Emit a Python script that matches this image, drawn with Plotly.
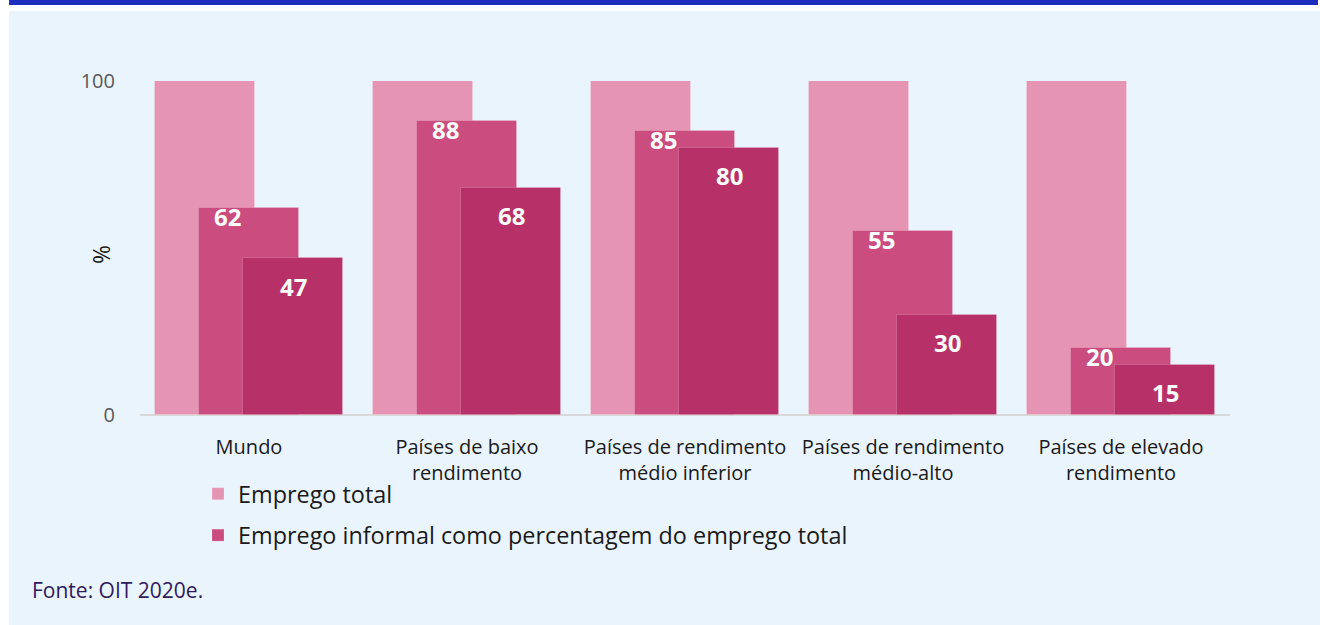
import plotly.graph_objects as go

categories = ["Mundo", "Países de baixo<br>rendimento", "Países de rendimento<br>médio inferior",
              "Países de rendimento<br>médio-alto", "Países de elevado<br>rendimento"]
total_emp = [100, 100, 100, 100, 100]
informal_share = [62, 88, 85, 55, 20]
third_series = [47, 68, 80, 30, 15]
y_ticks = [0, 100]

x_pos = list(range(len(categories)))

C1 = "#e594b3"
C2 = "#cb4c7e"
C3 = "#b83068"
FONT = "Open Sans"
EDGE = "rgba(255,255,255,0.18)"

fig = go.Figure()
W = 0.459
fig.add_trace(go.Bar(x=x_pos, y=total_emp, offset=-0.431, width=W, name="Emprego total",
                     marker=dict(color=C1, line=dict(color=EDGE, width=1)),
                     legendgroup="a"))
fig.add_trace(go.Bar(x=x_pos, y=informal_share, offset=-0.229, width=W,
                     name="Emprego informal como percentagem do emprego total",
                     marker=dict(color=C2, line=dict(color=EDGE, width=1)),
                     legendgroup="b"))
fig.add_trace(go.Bar(x=x_pos, y=third_series, offset=-0.0275, width=W, name="",
                     marker=dict(color=C3, line=dict(color=EDGE, width=1)),
                     showlegend=False, legendgroup="c"))

annotations = []
for xi, v in zip(x_pos, informal_share):
    annotations.append(dict(x=xi, y=v, xref="x", yref="y", text=f"<b>{v}</b>", showarrow=False,
                            xshift=-22, yanchor="top", yshift=10,
                            font=dict(family=FONT, size=24, color="white")))
for xi, v in zip(x_pos, third_series):
    annotations.append(dict(x=xi, y=v, xref="x", yref="y", text=f"<b>{v}</b>", showarrow=False,
                            xshift=44, yanchor="middle", yshift=-28,
                            font=dict(family=FONT, size=24, color="white")))
annotations.append(dict(x=(30 - 140) / 1090, y=(415 - 590) / 334, xref="paper", yref="paper",
                        xanchor="left", yanchor="middle", text="Fonte: OIT 2020e.", showarrow=False,
                        font=dict(family=FONT, size=21, color="#2e1a5e")))
annotations.append(dict(x=(101 - 140) / 1090, y=(415 - 255) / 334, xref="paper", yref="paper",
                        xanchor="center", yanchor="middle", text="%", textangle=-90, showarrow=False,
                        font=dict(family=FONT, size=23, color="#1a1a1a")))

shapes = [
    dict(type="rect", xref="paper", yref="paper", x0=(9 - 140) / 1090, x1=(1320 - 140) / 1090,
         y0=(415 - 11) / 334, y1=(415 - 640) / 334, fillcolor="#eaf4fd", line=dict(width=0), layer="below"),
    dict(type="rect", xref="paper", yref="paper", x0=(9 - 140) / 1090, x1=(1318 - 140) / 1090,
         y0=(415 - 5) / 334, y1=(415 + 5) / 334, fillcolor="#1f2dbf", line=dict(width=0),
         layer="below"),
]

fig.update_layout(
    width=1320, height=625,
    margin=dict(l=140, r=90, t=81, b=210),
    paper_bgcolor="white", plot_bgcolor="rgba(0,0,0,0)",
    barmode="overlay", bargap=0,
    font=dict(family=FONT, color="#1a1a1a"),
    showlegend=True,
    legend=dict(x=(198 - 140) / 1090, y=(415 - 472) / 334, xanchor="left", yanchor="top",
                orientation="v", traceorder="grouped", tracegroupgap=8,
                font=dict(family=FONT, size=23.4, color="#1a1a1a"), bgcolor="rgba(0,0,0,0)"),
    xaxis=dict(range=[-0.5, 4.5], tickvals=x_pos, ticktext=categories, showgrid=False,
               zeroline=False, showline=False, ticks="outside", ticklen=14, tickcolor="rgba(0,0,0,0)",
               tickfont=dict(family=FONT, size=20, color="#1a1a1a")),
    yaxis=dict(range=[0, 100], tickvals=y_ticks, showgrid=True, gridcolor="#d9d9d9", gridwidth=2,
               zeroline=True, zerolinecolor="#d9d9d9", zerolinewidth=2,
               ticks="outside", ticklen=20, tickcolor="rgba(0,0,0,0)",
               tickfont=dict(family=FONT, size=20, color="#595959")),
    annotations=annotations, shapes=shapes,
)

fig.write_html("out.html")
